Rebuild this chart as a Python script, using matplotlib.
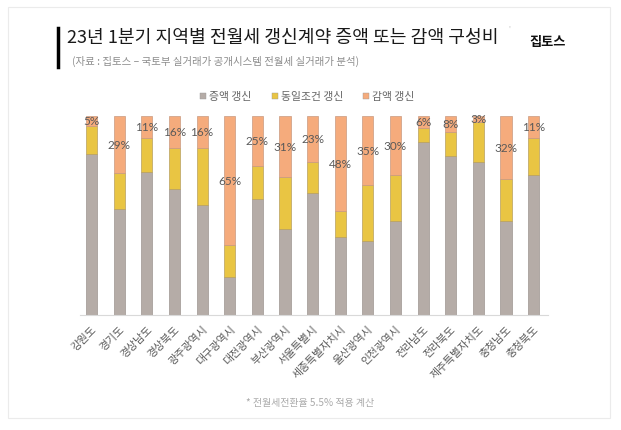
import matplotlib
matplotlib.use("Agg")
import matplotlib.pyplot as plt
import numpy as np
from matplotlib.patches import Rectangle
from matplotlib.lines import Line2D

plt.rcParams['font.family'] = ['Noto Sans CJK KR', 'DejaVu Sans']

# 지역
regions = ['강원도', '경기도', '경상남도', '경상북도', '광주광역시', '대구광역시',
           '대전광역시', '부산광역시', '서울특별시', '세종특별자치시', '울산광역시',
           '인천광역시', '전라남도', '전라북도', '제주특별자치도', '충청남도', '충청북도']
# 구성비 (%)
increase = [81, 53, 72, 63, 55, 19, 58, 43, 61, 39, 37, 47, 87, 80, 77, 47, 70]
same = [14, 18, 17, 21, 29, 16, 17, 26, 16, 13, 28, 23, 7, 12, 20, 21, 19]
decrease = [5, 29, 11, 16, 16, 65, 25, 31, 23, 48, 35, 30, 6, 8, 3, 32, 11]

c_inc = '#B5ACA7'
c_same = '#E9C543'
c_dec = '#F5AB7C'

fig = plt.figure(figsize=(6.21, 4.31), dpi=100)

# 바깥 테두리
fig.patches.append(Rectangle((8/621, 1 - 419/431), 602/621, 411/431,
                             transform=fig.transFigure, fill=False,
                             edgecolor='#ebebeb', linewidth=0.8))

ax = fig.add_axes([80/621, 1 - 316/431, 468/621, 199.3/431])
x = np.arange(len(regions))
w = 0.4
inc = np.array(increase)
sm = np.array(same)
dc = np.array(decrease)
tot = inc + sm + dc
inc_p = inc / tot
sm_p = sm / tot
dc_p = dc / tot

ax.bar(x, inc_p, w, color=c_inc, edgecolor='#9e9590', linewidth=0.5)
ax.bar(x, sm_p, w, bottom=inc_p, color=c_same, edgecolor='#b8a060', linewidth=0.5)
ax.bar(x, dc_p, w, bottom=inc_p + sm_p, color=c_dec, edgecolor='#c99a80', linewidth=0.5)

for i in range(len(regions)):
    ax.text(x[i], inc_p[i] + sm_p[i] + dc_p[i] / 2, f'{decrease[i]}%',
            ha='center', va='center', fontsize=8.5, color='#595959',
            family=['Lato', 'DejaVu Sans'])

ax.set_xlim(-0.42, 16.52)
ax.set_ylim(0, 1)
ax.set_yticks([])
for s in ['top', 'right', 'left']:
    ax.spines[s].set_visible(False)
ax.spines['bottom'].set_color('#d9d9d9')
ax.spines['bottom'].set_linewidth(0.8)
ax.set_xticks(x)
ax.set_xticklabels(regions, rotation=45, ha='right', rotation_mode='anchor',
                   fontsize=7.8, color='#595959')
ax.tick_params(axis='x', length=0, pad=6)

# 제목
fig.add_artist(Line2D([58/621, 58/621], [1 - 29/431, 1 - 68/431],
                      color='black', linewidth=2.5))
fig.text(67/621, 1 - 38/431, '23년 1분기 지역별 전월세 갱신계약 증액 또는 감액 구성비',
         fontsize=13.1, color='#1a1a1a', va='center', ha='left')
fig.text(72/621, 1 - 61/431, '(자료 : 집토스 – 국토부 실거래가 공개시스템 전월세 실거래가 분석)',
         fontsize=7.5, color='#8c8c8c', va='center', ha='left')
fig.text(508/621, 1 - 30/431, "'", fontsize=5, color='#bbbbbb', va='center')
fig.text(548/621, 1 - 42/431, '집토스', fontsize=9.5, fontweight='bold',
         color='#111111', va='center', ha='center')

# 범례
legend_items = [('증액 갱신', c_inc, 203), ('동일조건 갱신', c_same, 275), ('감액 갱신', c_dec, 366)]
for label, col, px in legend_items:
    fig.patches.append(Rectangle(((px - 3) / 621, 1 - 100/431), 6/621, 6/431,
                                 transform=fig.transFigure, facecolor=col,
                                 edgecolor='#999999', linewidth=0.3))
    fig.text((px + 6) / 621, 1 - 97/431, label, fontsize=7.8, color='#666666',
             va='center', ha='left')

fig.text(310/621, 1 - 403/431, '* 전월세전환율 5.5% 적용 계산', fontsize=7.2,
         color='#aaaaaa', ha='center', va='center')

fig.savefig('out.png', dpi=100)
